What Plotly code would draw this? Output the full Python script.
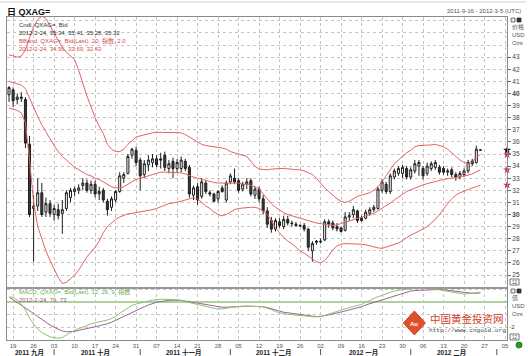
import plotly.graph_objects as go
import pandas as pd

W, H = 528, 356
FONT = "Liberation Sans, Arial, Noto Sans CJK SC, sans-serif"
CJK = "Liberation Sans, Noto Sans CJK SC, sans-serif"

# ---------------- data ----------------
start_date = "2011-09-16"
last_date = "2012-02-24"
axis_end_date = "2012-03-05"

opens = [39.9, 40.3, 39.5, 39.7, 39.5, 35.8, 30.5, 30.7, 31.8, 30.2,
         30.9, 30.0, 30.4, 30.1, 30.5, 31.4, 31.9, 32.0, 32.4, 32.6,
         32.0, 32.5, 31.7, 32.0, 31.1, 30.6, 31.2, 31.9, 33.0, 33.4,
         34.9, 35.3, 34.5, 33.3, 34.1, 34.3, 34.6, 34.6, 34.9, 33.8,
         34.4, 33.8, 33.8, 34.4, 33.9, 31.6, 32.3, 31.5, 32.6, 31.8,
         31.7, 31.3, 32.2, 31.2, 32.7, 33.0, 32.8, 32.1, 32.5, 32.8,
         31.6, 32.1, 31.3, 30.3, 29.5, 28.8, 29.4, 29.0, 29.6, 29.3,
         29.2, 29.1, 29.1, 28.8, 27.0, 27.7, 27.8, 27.9, 29.4, 29.3,
         29.0, 28.9, 28.7, 29.8, 30.0, 30.3, 29.7, 29.7, 30.1, 30.4,
         30.5, 32.0, 32.5, 31.9, 33.1, 33.4, 33.4, 33.8, 33.1, 33.6,
         34.0, 33.8, 33.4, 33.8, 33.9, 33.9, 33.8, 33.5, 33.7, 33.3,
         33.1, 33.3, 33.6, 34.4, 34.3, 35.34]
highs = [40.6, 40.5, 40.0, 40.1, 39.7, 36.5, 31.6, 33.0, 32.6, 31.4,
         31.2, 30.8, 30.9, 31.2, 32.0, 32.2, 32.3, 32.5, 33.0, 32.9,
         32.8, 32.8, 32.3, 32.2, 31.3, 31.5, 32.0, 33.5, 33.5, 35.0,
         35.5, 35.6, 34.7, 34.5, 34.9, 35.0, 34.9, 35.1, 35.2, 34.5,
         34.7, 34.6, 34.8, 34.6, 34.1, 32.4, 32.6, 33.0, 32.8, 32.0,
         31.8, 32.0, 32.4, 32.8, 33.4, 33.8, 33.0, 32.7, 33.0, 33.0,
         32.3, 32.3, 31.6, 30.6, 29.8, 29.7, 29.7, 29.9, 29.9, 29.5,
         29.4, 29.2, 29.3, 28.9, 27.8, 27.9, 28.0, 29.6, 29.6, 29.5,
         29.3, 29.0, 30.2, 30.2, 30.7, 30.4, 29.9, 30.4, 30.6, 30.8,
         32.3, 32.9, 32.7, 33.4, 33.8, 34.0, 34.1, 34.0, 33.9, 34.5,
         34.5, 34.0, 34.3, 34.4, 34.5, 34.1, 34.0, 33.8, 33.9, 33.5,
         33.6, 33.8, 34.5, 34.6, 35.7, 35.41]
lows = [39.3, 38.9, 39.1, 39.3, 35.5, 29.8, 26.1, 30.3, 29.8, 29.8,
        29.8, 29.5, 29.6, 28.4, 30.3, 31.0, 31.5, 31.7, 32.0, 31.8,
        31.7, 31.4, 31.2, 31.0, 29.9, 30.3, 31.0, 31.8, 32.6, 33.3,
        34.6, 34.0, 32.0, 33.0, 33.6, 33.9, 33.9, 33.8, 33.6, 33.4,
        33.0, 33.5, 33.5, 33.6, 31.4, 31.2, 30.8, 31.3, 31.7, 31.5,
        31.0, 31.0, 31.8, 31.0, 32.5, 32.5, 31.8, 31.9, 32.1, 31.5,
        31.3, 31.0, 30.0, 28.9, 28.5, 28.6, 28.9, 28.8, 29.1, 29.0,
        29.0, 29.0, 28.6, 27.0, 26.1, 27.5, 27.6, 27.8, 28.9, 28.7,
        28.6, 28.5, 28.6, 29.5, 29.7, 29.3, 29.4, 29.6, 29.9, 30.2,
        30.4, 31.8, 31.7, 31.7, 32.9, 33.2, 33.0, 32.9, 32.9, 33.4,
        33.2, 32.9, 33.2, 33.6, 33.7, 33.3, 33.3, 33.2, 33.1, 32.8,
        32.9, 33.1, 33.4, 34.0, 34.2, 35.28]
closes = [40.5, 39.4, 39.7, 39.6, 35.9, 30.0, 30.7, 31.8, 30.0, 30.9,
          30.1, 30.5, 29.9, 30.4, 31.8, 32.0, 32.1, 32.2, 32.6, 32.0,
          32.5, 31.7, 31.9, 31.2, 30.4, 31.3, 31.9, 33.2, 33.3, 34.8,
          35.4, 34.3, 33.2, 34.2, 34.5, 34.6, 34.1, 34.5, 33.9, 34.2,
          33.8, 34.3, 34.5, 33.8, 31.7, 32.2, 31.2, 32.7, 31.9, 31.7,
          31.1, 31.9, 31.9, 32.6, 33.2, 32.7, 32.0, 32.5, 32.7, 31.7,
          32.1, 31.3, 30.3, 29.2, 28.8, 29.5, 29.1, 29.6, 29.3, 29.25,
          29.1, 29.05, 28.8, 27.3, 27.6, 27.8, 27.75, 29.4, 29.2, 28.9,
          28.8, 28.6, 29.8, 29.9, 30.4, 29.5, 29.5, 30.2, 30.4, 30.6,
          32.1, 32.7, 31.9, 33.2, 33.6, 33.8, 33.9, 33.1, 33.7, 34.2,
          34.3, 33.2, 34.0, 34.2, 34.3, 33.5, 33.5, 33.6, 33.3, 33.1,
          33.4, 33.6, 34.3, 34.2, 35.4, 35.32]

bb_upper = [43.2, 43.1, 43.0, 43.1, 43.6, 44.6, 45.5, 46.1, 46.4, 46.2,
            45.6, 44.9, 44.3, 43.8, 43.4, 43.1, 42.8, 41.9, 40.8, 39.8,
            38.9, 38.0, 37.3, 36.7, 35.8, 35.4, 35.2, 35.2, 35.4, 35.8,
            36.1, 36.4, 36.5, 36.6, 36.7, 36.75, 36.8, 36.8, 36.8, 36.8,
            36.8, 36.8, 36.75, 36.6, 36.4, 36.2, 36.0, 35.8, 35.7, 35.65,
            35.6, 35.6, 35.5, 35.4, 35.2, 35.1, 35.0, 34.9, 34.8, 34.4,
            34.0, 33.75, 33.7, 33.7, 33.75, 33.8, 33.8, 33.8, 33.8, 33.75,
            33.7, 33.7, 33.6, 33.45, 33.3, 33.0, 32.6, 32.2, 31.9, 31.6,
            31.3, 31.1, 31.0, 31.1, 31.3, 31.5, 31.6, 31.7, 31.8, 32.0,
            32.3, 32.7, 33.2, 33.8, 34.2, 34.5, 34.8, 35.1, 35.3, 35.6,
            35.7, 35.7, 35.7, 35.75, 35.8, 35.7, 35.6, 35.4, 35.1, 34.8,
            34.5, 34.3, 34.2, 34.3, 34.75, 34.95]
bb_middle = [41.0, 40.9, 40.8, 40.7, 40.4, 39.6, 38.8, 38.1, 37.4, 36.8,
             36.2, 35.7, 35.2, 34.8, 34.5, 34.2, 33.9, 33.7, 33.5, 33.3,
             33.2, 33.0, 32.9, 32.7, 32.5, 32.3, 32.2, 32.2, 32.3, 32.5,
             32.7, 32.9, 33.0, 33.1, 33.2, 33.3, 33.4, 33.5, 33.5, 33.5,
             33.5, 33.5, 33.45, 33.35, 33.2, 33.1, 33.0, 32.9, 32.8, 32.7,
             32.65, 32.6, 32.6, 32.6, 32.6, 32.6, 32.6, 32.5, 32.5, 32.4,
             32.3, 32.1, 31.7, 31.3, 30.9, 30.6, 30.35, 30.15, 30.0, 29.9,
             29.8, 29.7, 29.6, 29.45, 29.35, 29.3, 29.25, 29.2, 29.1, 29.1,
             29.15, 29.25, 29.35, 29.45, 29.55, 29.65, 29.75, 29.85, 29.95, 30.1,
             30.3, 30.5, 30.7, 30.95, 31.2, 31.45, 31.7, 31.9, 32.05, 32.2,
             32.35, 32.45, 32.55, 32.65, 32.75, 32.85, 32.9, 32.95, 33.0, 33.05,
             33.1, 33.15, 33.25, 33.35, 33.55, 33.69]
bb_lower = [38.8, 38.7, 38.6, 38.4, 37.6, 34.5, 31.0, 29.0, 27.9, 27.0,
            26.2, 25.5, 24.8, 24.3, 24.4, 24.7, 25.0, 25.4, 26.0, 26.5,
            26.9, 27.3, 27.8, 28.5, 29.0, 29.3, 29.6, 29.8, 29.95, 30.05,
            30.1, 30.15, 30.2, 30.25, 30.3, 30.4, 30.5, 30.65, 30.8, 30.9,
            30.95, 31.0, 31.1, 31.2, 31.3, 31.4, 31.3, 31.0, 30.7, 30.5,
            30.2, 30.0, 29.9, 30.0, 30.2, 30.4, 30.5, 30.55, 30.6, 30.6,
            30.6, 30.5, 30.3, 30.0, 29.5, 28.9, 28.5, 28.1, 27.8, 27.6,
            27.3, 27.0, 26.8, 26.55, 26.3, 26.1, 26.0, 26.2, 26.6, 27.1,
            27.4, 27.55, 27.6, 27.6, 27.6, 27.6, 27.55, 27.5, 27.4, 27.3,
            27.25, 27.2, 27.3, 27.4, 27.5, 27.65, 27.85, 28.1, 28.3, 28.45,
            28.65, 28.85, 29.0, 29.3, 29.6, 30.0, 30.5, 30.9, 31.3, 31.6,
            31.8, 31.95, 32.05, 32.2, 32.3, 32.43]

macd_line = [0.40, 0.36, 0.16, -0.16, -0.64, -1.28, -1.76, -2.16, -2.44, -2.64,
             -2.78, -2.86, -2.90, -2.84, -2.64, -2.44, -2.26, -2.14, -2.00, -1.88,
             -1.76, -1.66, -1.60, -1.52, -1.44, -1.32, -1.16, -0.90, -0.70, -0.48,
             -0.28, -0.16, -0.06, 0.00, 0.08, 0.14, 0.19, 0.22, 0.22, 0.22,
             0.22, 0.19, 0.11, 0.03, -0.08, -0.16, -0.22, -0.29, -0.37, -0.45,
             -0.53, -0.58, -0.54, -0.48, -0.42, -0.38, -0.36, -0.34, -0.33, -0.32,
             -0.34, -0.36, -0.38, -0.48, -0.62, -0.76, -0.88, -0.94, -0.98, -1.00,
             -1.04, -1.07, -1.10, -1.14, -1.18, -1.18, -1.18, -1.08, -0.96, -0.84,
             -0.72, -0.64, -0.54, -0.45, -0.35, -0.28, -0.20, 0.00, 0.10, 0.30,
             0.42, 0.56, 0.70, 0.82, 0.88, 0.94, 1.00, 1.03, 1.06, 1.08,
             1.10, 1.09, 1.07, 1.05, 1.02, 0.98, 0.91, 0.85, 0.78, 0.72,
             0.67, 0.64, 0.66, 0.69, 0.72, 0.79]
macd_signal = [0.40, 0.18, 0.00, -0.20, -0.44, -0.70, -0.92, -1.16, -1.40, -1.62,
               -1.84, -2.02, -2.20, -2.32, -2.38, -2.38, -2.35, -2.27, -2.18, -2.10,
               -2.05, -1.98, -1.92, -1.84, -1.74, -1.62, -1.46, -1.28, -1.12, -0.96,
               -0.80, -0.64, -0.50, -0.38, -0.24, -0.10, -0.02, 0.04, 0.10, 0.13,
               0.15, 0.16, 0.14, 0.08, 0.02, -0.02, -0.08, -0.14, -0.20, -0.28,
               -0.36, -0.40, -0.42, -0.42, -0.40, -0.36, -0.32, -0.32, -0.33, -0.34,
               -0.34, -0.36, -0.38, -0.44, -0.54, -0.64, -0.76, -0.82, -0.86, -0.90,
               -0.94, -1.00, -1.04, -1.09, -1.14, -1.17, -1.15, -1.10, -1.04, -0.96,
               -0.88, -0.80, -0.72, -0.64, -0.54, -0.45, -0.38, -0.24, -0.14, -0.02,
               0.08, 0.18, 0.30, 0.40, 0.50, 0.60, 0.70, 0.80, 0.88, 0.92,
               0.94, 0.96, 0.98, 0.99, 1.00, 1.00, 0.98, 0.94, 0.88, 0.82,
               0.78, 0.74, 0.72, 0.70, 0.70, 0.73]

month_labels = ["2011 九月", "2011 十月", "2011 十一月", "2011 十二月", "2012 一月", "2012 二月"]
price_ticks = list(range(25, 44))
bold_price_ticks = [30, 40]
extra_grid_prices = [24, 44, 45, 46]
macd_grid = [-3, -2, -1, 0, 1]
macd_labels = {-2: "-2"}

legend_lines = [
    ("Cndl, QXAG=, Bid", "#333333"),
    ("2012-2-24, 35.34, 35.41, 35.28, 35.32", "#333333"),
    ("BBand, QXAG=, Bid(Last), 20, 指数, 2.0", "#d84a4a"),
    ("2012-2-24, 34.95, 33.69, 32.43", "#d84a4a"),
]
macd_legend = [
    ("MACD, QXAG=, Bid(Last), 12, 26, 9, 指数", "#6cb04a"),
    ("2012-2-24, 79, 73", "#a0508a"),
]

# ---------------- calendar ----------------
trade_days = pd.bdate_range(start_date, last_date)
axis_days = pd.bdate_range(start_date, axis_end_date)
x = list(range(len(trade_days)))
x_min, x_max = -0.5, len(axis_days) - 0.5
monday_pos = [i for i, d in enumerate(axis_days) if d.weekday() == 0]
monday_txt = [axis_days[i].strftime("%d") for i in monday_pos]

month_keys = sorted(set((d.year, d.month) for d in axis_days))
month_first = [min(i for i, d in enumerate(axis_days) if (d.year, d.month) == k) for k in month_keys]
month_mid = []
for k in month_keys[:len(month_labels)]:
    idxs = [i for i, d in enumerate(axis_days) if (d.year, d.month) == k]
    month_mid.append((min(idxs) + max(idxs)) / 2)


def px_x(p):
    return p / W


def px_y(p):
    return 1 - p / H


LEFT, RIGHT = 7, 509
TOP, MID, BOT = 17, 288, 340

fig = go.Figure()

fig.add_trace(go.Candlestick(
    x=x, open=opens, high=highs, low=lows, close=closes,
    increasing=dict(fillcolor="white", line=dict(color="#1e1e1e", width=1)),
    decreasing=dict(fillcolor="#3a3a3a", line=dict(color="#1e1e1e", width=1)),
    whiskerwidth=0, showlegend=False, hoverinfo="skip",
    xaxis="x", yaxis="y"))

for band in (bb_upper, bb_middle, bb_lower):
    fig.add_trace(go.Scatter(x=x, y=band, mode="lines",
                             line=dict(color="#e06464", width=1),
                             showlegend=False, hoverinfo="skip",
                             xaxis="x", yaxis="y"))

# last-value markers on the price axis
fig.add_trace(go.Scatter(
    x=[x_max] * 3, y=[bb_upper[-1], bb_middle[-1], bb_lower[-1]],
    mode="markers", marker=dict(symbol="star", size=6, color="#c83040"),
    cliponaxis=False, showlegend=False, hoverinfo="skip", xaxis="x", yaxis="y"))
fig.add_trace(go.Scatter(
    x=[x_max], y=[closes[-1]], mode="markers",
    marker=dict(symbol="star", size=6, color="#111111"),
    cliponaxis=False, showlegend=False, hoverinfo="skip", xaxis="x", yaxis="y"))

fig.add_trace(go.Scatter(x=x, y=macd_signal, mode="lines",
                         line=dict(color="#a0609a", width=1),
                         showlegend=False, hoverinfo="skip", xaxis="x2", yaxis="y2"))
fig.add_trace(go.Scatter(x=x, y=macd_line, mode="lines",
                         line=dict(color="#8cc46c", width=1),
                         showlegend=False, hoverinfo="skip", xaxis="x2", yaxis="y2"))

grid = dict(showgrid=True, gridcolor="#c4c4c4", griddash="dot", gridwidth=1)
xdom = [px_x(LEFT), px_x(RIGHT)]

fig.update_layout(
    width=W, height=H, margin=dict(l=0, r=0, t=0, b=0),
    paper_bgcolor="white", plot_bgcolor="white",
    font=dict(family=FONT, size=7, color="#444444"),
    showlegend=False,
    xaxis=dict(domain=xdom, anchor="y", range=[x_min, x_max],
               tickvals=monday_pos, showticklabels=False, ticks="",
               showline=True, linecolor="#8a8a8a", linewidth=1, mirror=True,
               zeroline=False, rangeslider=dict(visible=False), **grid),
    yaxis=dict(domain=[px_y(MID), px_y(TOP)], anchor="x", side="right",
               range=[23.93, 46.32],
               tickvals=price_ticks,
               ticktext=[f"<b>{v}</b>" if v in bold_price_ticks else str(v) for v in price_ticks],
               ticks="outside", ticklen=3, tickcolor="#666666",
               tickfont=dict(size=6.5, color="#444444"),
               minor=dict(tickvals=extra_grid_prices, showgrid=True, gridcolor="#c4c4c4",
                          griddash="dot", ticks=""),
               showline=True, linecolor="#8a8a8a", linewidth=1, mirror=True,
               zeroline=False, **grid),
    xaxis2=dict(domain=xdom, anchor="y2", range=[x_min, x_max],
                tickvals=monday_pos, ticktext=monday_txt, ticks="",
                tickfont=dict(size=6, color="#555555"),
                showline=True, linecolor="#8a8a8a", linewidth=1, mirror=True,
                zeroline=False, **grid),
    yaxis2=dict(domain=[px_y(BOT), px_y(MID)], anchor="x2", side="right",
                range=[-3.04, 1.12],
                tickvals=macd_grid, ticktext=[macd_labels.get(v, "") for v in macd_grid],
                ticks="", tickfont=dict(size=6, color="#444444"),
                showline=True, linecolor="#8a8a8a", linewidth=1, mirror=True,
                zeroline=False, **grid),
)

shapes = []
# MACD zero line (green)
shapes.append(dict(type="line", xref="x2 domain", yref="y2", x0=0, x1=1, y0=0, y1=0,
                   line=dict(color="#a6d88e", width=2), layer="below"))
# separator between panels
shapes.append(dict(type="line", xref="paper", yref="paper", x0=px_x(LEFT), x1=px_x(RIGHT),
                   y0=px_y(MID), y1=px_y(MID), line=dict(color="#9a9a9a", width=1.5)))
# toolbar remnant line at top
shapes.append(dict(type="line", xref="paper", yref="paper", x0=0, x1=1,
                   y0=px_y(2), y1=px_y(2), line=dict(color="#d0d0d0", width=1)))

# small icons on right
for yy in (20, 291):
    shapes.append(dict(type="rect", xref="paper", yref="paper",
                       x0=px_x(513), x1=px_x(517), y0=px_y(yy + 2), y1=px_y(yy - 2),
                       line=dict(color="#555", width=0.8), fillcolor="#e8e8e8"))
    shapes.append(dict(type="rect", xref="paper", yref="paper",
                       x0=px_x(519), x1=px_x(523), y0=px_y(yy + 2), y1=px_y(yy - 2),
                       line=dict(color="#333", width=0.8), fillcolor="#333"))
for yy in (282, 337):
    shapes.append(dict(type="rect", xref="paper", yref="paper",
                       x0=px_x(512), x1=px_x(521), y0=px_y(yy + 3), y1=px_y(yy - 3),
                       line=dict(color="#555", width=0.8), fillcolor="white"))

# month separators
for i in month_first[1:]:
    shapes.append(dict(type="line", xref="x2", yref="paper", x0=i, x1=i,
                       y0=px_y(355), y1=px_y(349), line=dict(color="#555", width=1)))

# watermark diamond logo
cx, cy, hw, hh = 416, 323, 11, 12
path = (f"M {px_x(cx)},{px_y(cy - hh)} L {px_x(cx + hw)},{px_y(cy)} "
        f"L {px_x(cx)},{px_y(cy + hh)} L {px_x(cx - hw)},{px_y(cy)} Z")
shapes.append(dict(type="path", xref="paper", yref="paper", path=path,
                   fillcolor="#e0502a", line=dict(color="#c8401e", width=1)))
# green status dot
shapes.append(dict(type="circle", xref="paper", yref="paper",
                   x0=px_x(518), x1=px_x(524), y0=px_y(348), y1=px_y(342),
                   fillcolor="#2e9a2e", line=dict(color="#1e7a1e", width=1)))

fig.update_layout(shapes=shapes)

ann = []
ann.append(dict(text="<b>日 QXAG=</b>", x=px_x(5), y=px_y(11.5), xref="paper", yref="paper",
                xanchor="left", yanchor="middle", showarrow=False,
                font=dict(size=9, color="#111111", family=CJK)))
sd, ed = pd.Timestamp(start_date), pd.Timestamp(axis_end_date)
ann.append(dict(text=f"{sd.year}-{sd.month}-{sd.day} - {ed.year}-{ed.month}-{ed.day} (UTC)",
                x=px_x(525), y=px_y(11), xref="paper", yref="paper",
                xanchor="right", yanchor="middle", showarrow=False,
                font=dict(size=6, color="#555555")))
for k, (t, c) in enumerate(legend_lines):
    ann.append(dict(text=t, x=px_x(17), y=px_y(25 + 8 * k), xref="paper", yref="paper",
                    xanchor="left", yanchor="middle", showarrow=False,
                    font=dict(size=6, color=c, family=CJK)))
for k, (t, c) in enumerate(macd_legend):
    ann.append(dict(text=t, x=px_x(17), y=px_y(292 + 8 * k), xref="paper", yref="paper",
                    xanchor="left", yanchor="middle", showarrow=False,
                    font=dict(size=6, color=c, family=CJK)))
for t, yy in (("价格", 27), ("USD", 35), ("Ozs", 43), ("值", 298), ("USD", 306), ("Ozs", 314)):
    ann.append(dict(text=t, x=px_x(512), y=px_y(yy), xref="paper", yref="paper",
                    xanchor="left", yanchor="middle", showarrow=False,
                    font=dict(size=6, color="#555555", family=CJK)))
for yy in (282, 337):
    ann.append(dict(text="12", x=px_x(516.5), y=px_y(yy), xref="paper", yref="paper",
                    xanchor="center", yanchor="middle", showarrow=False,
                    font=dict(size=4.5, color="#444444")))
for t, m in zip(month_labels, month_mid):
    ann.append(dict(text=f"<b>{t}</b>", x=m, y=px_y(352.5), xref="x2", yref="paper",
                    xanchor="center", yanchor="middle", showarrow=False,
                    font=dict(size=6.5, color="#222222", family=CJK)))
# watermark text
ann.append(dict(text="中国黄金投资网", x=px_x(430), y=px_y(318), xref="paper", yref="paper",
                xanchor="left", yanchor="middle", showarrow=False,
                font=dict(size=10.5, color="#d2402a", family="Noto Sans CJK SC")))
ann.append(dict(text="http://www.cngold.org", x=px_x(429), y=px_y(330), xref="paper", yref="paper",
                xanchor="left", yanchor="middle", showarrow=False,
                font=dict(size=6.1, color="#444444", family="Liberation Mono, monospace")))
ann.append(dict(text="<b>Au</b>", x=px_x(416), y=px_y(324), xref="paper", yref="paper",
                xanchor="center", yanchor="middle", showarrow=False,
                font=dict(size=6, color="white")))
fig.update_layout(annotations=ann)

fig.write_html("out.html",
               config={"displayModeBar": False, "staticPlot": True},
               post_script="document.body.style.margin='0';document.body.style.padding='0';"
                           "document.documentElement.style.overflow='hidden';")
